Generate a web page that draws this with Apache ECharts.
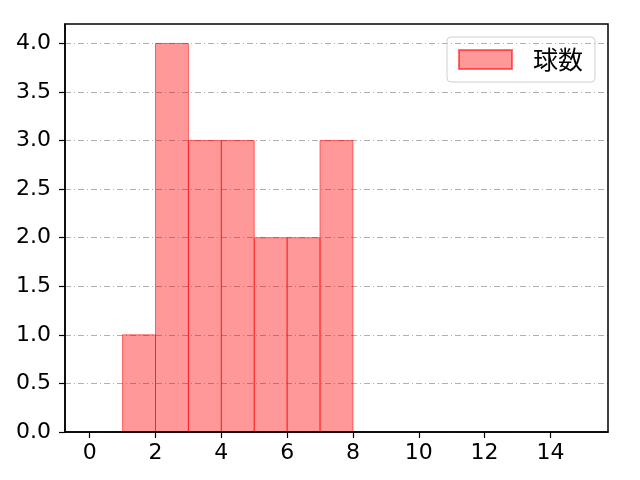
<!DOCTYPE html>
<html>
<head>
<meta charset="utf-8">
<script src="https://cdn.jsdelivr.net/npm/echarts@6/dist/echarts.min.js"></script>
<style>
  html, body { margin: 0; padding: 0; background: #fff; }
  #main { width: 640px; height: 480px; }
</style>
</head>
<body>
<div id="main"></div>
<script>
// ヒストグラムのデータ
var binStarts = [1, 2, 3, 4, 5, 6, 7];
var binEnds = [2, 3, 4, 5, 6, 7, 8];
var counts = [1, 4, 3, 3, 2, 2, 3];
var xTicks = [0, 2, 4, 6, 8, 10, 12, 14];
var yTicks = [0, 0.5, 1, 1.5, 2, 2.5, 3, 3.5, 4];
var seriesName = '球数';

var font = '"Noto Sans CJK JP", "DejaVu Sans", sans-serif';
var numFont = '"DejaVu Sans", sans-serif';

var chart = echarts.init(document.getElementById('main'));

var data = [];
for (var i = 0; i < counts.length; i++) {
  data.push([binStarts[i], binEnds[i], counts[i]]);
}

var option = {
  backgroundColor: '#fff',
  animation: false,
  grid: { left: 65, right: 32, top: 24, bottom: 48 },
  legend: {
    data: [{ name: seriesName, icon: 'rect' }],
    right: 45,
    top: 37,
    itemWidth: 53,
    itemHeight: 19,
    itemGap: 10,
    padding: [10, 12, 10, 11],
    borderColor: '#d0d0d0',
    borderWidth: 1,
    borderRadius: 4,
    textStyle: { fontFamily: font, fontSize: 25, color: '#000', padding: [0, 0, 0, 16] }
  },
  xAxis: {
    type: 'value',
    min: -0.75,
    max: 15.75,
    axisLine: { show: true, onZero: false, lineStyle: { color: '#000', width: 1.5 } },
    axisTick: { show: true, length: 6, customValues: xTicks, lineStyle: { color: '#000', width: 1.2 } },
    axisLabel: { customValues: xTicks, fontFamily: numFont, fontSize: 22, color: '#000', margin: 10 },
    splitLine: { show: false }
  },
  yAxis: {
    type: 'value',
    min: 0,
    max: 4.2,
    interval: 0.5,
    axisLine: { show: true, onZero: false, lineStyle: { color: '#000', width: 1.5 } },
    axisTick: { show: true, length: 6, customValues: yTicks, lineStyle: { color: '#000', width: 1.2 } },
    axisLabel: {
      customValues: yTicks,
      fontFamily: numFont, fontSize: 22, color: '#000', margin: 14,
      formatter: function (v) { return v.toFixed(1); }
    },
    splitLine: { show: true, lineStyle: { color: '#b0b0b0', width: 1, type: [6, 3, 1, 3] } }
  },
  series: [{
    name: seriesName,
    type: 'custom',
    itemStyle: { color: 'rgba(255,0,0,0.4)', borderColor: 'rgba(255,0,0,0.55)', borderWidth: 1 },
    renderItem: function (params, api) {
      var p0 = api.coord([api.value(0), api.value(2)]);
      var p1 = api.coord([api.value(1), 0]);
      return {
        type: 'rect',
        shape: { x: p0[0], y: p0[1], width: p1[0] - p0[0], height: p1[1] - p0[1] },
        style: { fill: 'rgba(255,0,0,0.4)', stroke: 'rgba(255,0,0,0.55)', lineWidth: 1 }
      };
    },
    encode: { x: [0, 1], y: 2 },
    data: data
  }],
  graphic: [{
    type: 'rect',
    shape: { x: 65, y: 24, width: 543, height: 408 },
    style: { fill: 'none', stroke: '#000', lineWidth: 1.5 },
    silent: true,
    z: 10
  }]
};

chart.setOption(option);
</script>
</body>
</html>
